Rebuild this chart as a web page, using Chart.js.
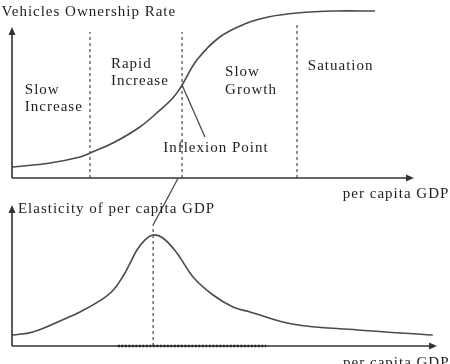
<!DOCTYPE html>
<html>
<head>
<meta charset="utf-8">
<script src="https://cdn.jsdelivr.net/npm/chart.js@4"></script>
<style>
  html, body { margin: 0; padding: 0; background: #fff; }
  #wrap { position: relative; width: 450px; height: 364px; overflow: hidden; }
  canvas { position: absolute; left: 0; top: 0; }
</style>
</head>
<body>
<div id="wrap">
  <canvas id="topChart" width="450" height="364"></canvas>
  <canvas id="bottomChart" width="450" height="364"></canvas>
</div>
<script>
// upper panel: vehicle ownership rate vs per capita GDP (S-curve)
const ownershipGDP = [0, 9.5, 16.9, 19.4, 25.1, 31.8, 36.8, 40, 42.3, 46, 51.7, 58.5, 64, 70.9, 80.3, 90.3];
const ownershipRate = [7.3, 10, 14, 16.7, 23.3, 34, 45.3, 53.3, 62, 78.7, 94, 103.3, 107.5, 110, 111.3, 111.3];
// stage boundaries (x) and how high each dashed line goes
const stageBounds = [19.4, 42.3, 70.9];
const stageTops = [97.3, 97.3, 104];
const stageNames = [["Slow", "Increase"], ["Rapid", "Increase"], ["Slow", "Growth"], ["Satuation"]];
const inflexion = { x: 42.3, y: 62 };

// lower panel: elasticity of per capita GDP (peaked curve)
const elasticityGDP = [0, 4.9, 12.9, 16, 20.7, 23.8, 26.1, 27.8, 29.4, 31.3, 33.2, 35.5, 38.8, 42.6, 47.3, 52, 56, 65.9, 81.4, 99];
const elasticity = [7.3, 9.3, 18.7, 22.7, 30.2, 37.2, 46.5, 55.3, 64, 70.7, 74, 72, 62, 46, 34, 26, 22.7, 14.7, 10.7, 7.3];
const peak = { x: 33.2, y: 74 };

const ink = "#4a4a4a";
const textInk = "#1e1e1e";
const serif = "15px 'Liberation Serif', 'DejaVu Serif', serif";

const dashed = (x, y0, y1) => ({
  data: [{ x: x, y: y0 }, { x: x, y: y1 }],
  borderColor: ink,
  borderWidth: 1.2,
  borderDash: [3, 3],
  pointRadius: 0,
  clip: false,
});

const plainLine = (pts) => ({
  data: pts,
  borderColor: ink,
  borderWidth: 1.3,
  pointRadius: 0,
  clip: false,
});

// axes with arrowheads + text labels
const decorPlugin = {
  id: "decor",
  afterDraw(chart, args, opts) {
    const ctx = chart.ctx;
    const xs = chart.scales.x;
    const ys = chart.scales.y;
    const x0 = xs.getPixelForValue(0);
    const y0 = ys.getPixelForValue(0);
    const xEnd = xs.getPixelForValue(opts.xEnd);
    const yEnd = ys.getPixelForValue(opts.yEnd);

    ctx.save();
    ctx.strokeStyle = "#333";
    ctx.fillStyle = "#333";
    ctx.lineWidth = 1.6;
    ctx.beginPath();
    ctx.moveTo(x0, y0);
    ctx.lineTo(xEnd - 4, y0);
    ctx.moveTo(x0, y0);
    ctx.lineTo(x0, yEnd + 4);
    ctx.stroke();

    // arrow heads
    ctx.beginPath();
    ctx.moveTo(xEnd, y0);
    ctx.lineTo(xEnd - 8, y0 - 3.5);
    ctx.lineTo(xEnd - 8, y0 + 3.5);
    ctx.closePath();
    ctx.fill();
    ctx.beginPath();
    ctx.moveTo(x0, yEnd);
    ctx.lineTo(x0 - 3.5, yEnd + 8);
    ctx.lineTo(x0 + 3.5, yEnd + 8);
    ctx.closePath();
    ctx.fill();

    if (opts.dotted) {
      ctx.strokeStyle = "#222";
      ctx.lineWidth = 2.4;
      ctx.setLineDash([2, 1.5]);
      ctx.beginPath();
      ctx.moveTo(xs.getPixelForValue(opts.dotted[0]), y0);
      ctx.lineTo(xs.getPixelForValue(opts.dotted[1]), y0);
      ctx.stroke();
      ctx.setLineDash([]);
    }

    ctx.fillStyle = textInk;
    ctx.font = serif;
    ctx.textBaseline = "middle";
    ctx.letterSpacing = "1px";
    opts.labels.forEach((l) => {
      ctx.fillText(l.text, xs.getPixelForValue(l.x), ys.getPixelForValue(l.y));
    });
    ctx.restore();
  },
};

const baseOptions = (pad, xMax, yMax) => ({
  responsive: false,
  animation: false,
  events: [],
  layout: { padding: pad },
  scales: {
    x: { type: "linear", min: 0, max: xMax, display: false },
    y: { type: "linear", min: 0, max: yMax, display: false },
  },
  plugins: { legend: { display: false }, tooltip: { enabled: false } },
});

// top chart
const topOpts = baseOptions({ left: 12, right: 36, top: 10, bottom: 186 }, 100, 112);
topOpts.plugins.decor = {
  xEnd: 100,
  yEnd: 100.7,
  labels: [
    { text: "Vehicles Ownership Rate", x: -2.6, y: 110.7 },
    { text: stageNames[0][0], x: 3.2, y: 58.7 },
    { text: stageNames[0][1], x: 3.2, y: 47.3 },
    { text: stageNames[1][0], x: 24.6, y: 76 },
    { text: stageNames[1][1], x: 24.6, y: 64.7 },
    { text: stageNames[2][0], x: 53, y: 70.7 },
    { text: stageNames[2][1], x: 53, y: 58.7 },
    { text: stageNames[3][0], x: 73.6, y: 74.7 },
    { text: "Inflexion Point", x: 37.6, y: 20 },
    { text: "per capita GDP", x: 82.3, y: -10.7 },
  ],
};

new Chart(document.getElementById("topChart"), {
  type: "line",
  data: {
    datasets: [
      {
        data: ownershipGDP.map((x, i) => ({ x: x, y: ownershipRate[i] })),
        borderColor: ink,
        borderWidth: 1.6,
        pointRadius: 0,
        tension: 0.4,
        clip: false,
      },
      ...stageBounds.map((b, i) => dashed(b, 0, stageTops[i])),
      plainLine([{ x: inflexion.x, y: inflexion.y }, { x: 48, y: 27.3 }]),
    ],
  },
  options: topOpts,
  plugins: [decorPlugin],
});

// bottom chart
const botOpts = baseOptions({ left: 12, right: 13, top: 196, bottom: 18 }, 100, 100);
botOpts.plugins.decor = {
  xEnd: 100,
  yEnd: 94,
  dotted: [24.9, 59.8],
  labels: [
    { text: "Elasticity of per capita GDP", x: 1.4, y: 91.3 },
    { text: "per capita GDP", x: 77.9, y: -11.6 },
  ],
};

new Chart(document.getElementById("bottomChart"), {
  type: "line",
  data: {
    datasets: [
      {
        data: elasticityGDP.map((x, i) => ({ x: x, y: elasticity[i] })),
        borderColor: ink,
        borderWidth: 1.6,
        pointRadius: 0,
        tension: 0.4,
        clip: false,
      },
      dashed(peak.x, 0, 80.7),
      plainLine([{ x: 39.1, y: 112 }, { x: peak.x, y: 80.7 }]),
    ],
  },
  options: botOpts,
  plugins: [decorPlugin],
});
</script>
</body>
</html>
